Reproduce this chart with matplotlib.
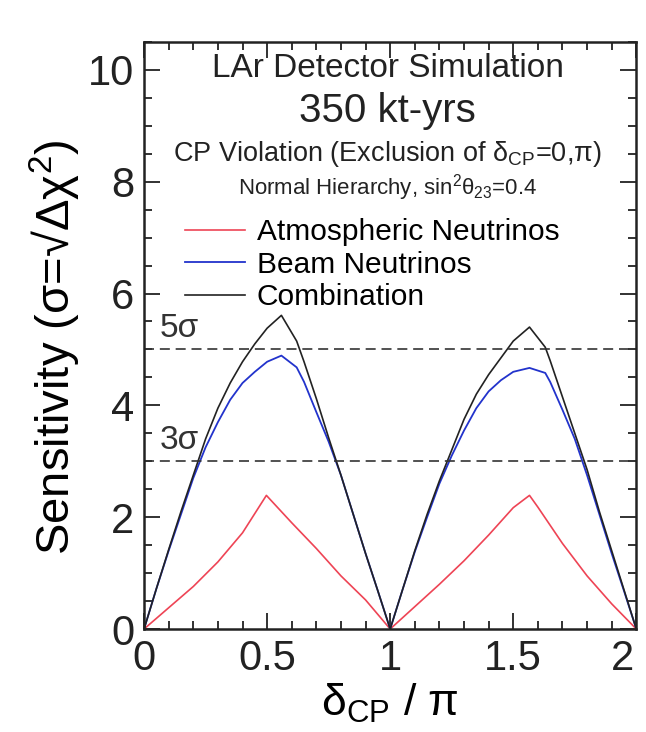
import matplotlib
matplotlib.use("Agg")
import matplotlib.pyplot as plt
from matplotlib.ticker import MultipleLocator
from matplotlib.transforms import ScaledTranslation

plt.rcParams['font.family'] = ['Liberation Sans', 'DejaVu Sans']
plt.rcParams['mathtext.fontset'] = 'custom'
plt.rcParams['mathtext.rm'] = 'Liberation Sans'
plt.rcParams['mathtext.it'] = 'Liberation Sans'
plt.rcParams['mathtext.default'] = 'regular'

# Atmospheric neutrinos
atm_x = [0.0, 0.1, 0.2, 0.3, 0.4, 0.497, 0.6, 0.7, 0.8, 0.9, 1.0,
         1.1, 1.2, 1.3, 1.4, 1.5, 1.566, 1.6, 1.7, 1.8, 1.9, 2.0]
atm_y = [0.0, 0.38, 0.76, 1.2, 1.72, 2.39, 1.9, 1.44, 0.95, 0.52, 0.0,
         0.4, 0.8, 1.22, 1.68, 2.17, 2.39, 2.18, 1.53, 0.95, 0.45, 0.0]

# Beam neutrinos
beam_x = [0.0, 0.05, 0.1, 0.15, 0.2, 0.25, 0.3, 0.35, 0.4, 0.45, 0.5, 0.558, 0.62,
          0.65, 0.7, 0.75, 0.8, 0.85, 0.9, 0.95, 1.0,
          1.05, 1.1, 1.15, 1.2, 1.25, 1.3, 1.35, 1.4, 1.45, 1.5, 1.566, 1.63,
          1.65, 1.7, 1.75, 1.8, 1.85, 1.9, 1.95, 2.0]
beam_y = [0.0, 0.72, 1.4, 2.05, 2.7, 3.25, 3.7, 4.1, 4.4, 4.6, 4.78, 4.89, 4.68,
          4.42, 3.88, 3.35, 2.75, 2.05, 1.35, 0.68, 0.0,
          0.7, 1.38, 2.0, 2.6, 3.1, 3.55, 3.95, 4.25, 4.45, 4.6, 4.67, 4.58,
          4.42, 3.92, 3.4, 2.75, 2.05, 1.35, 0.68, 0.0]

# Combination
comb_x = [0.0, 0.05, 0.1, 0.15, 0.2, 0.25, 0.3, 0.35, 0.4, 0.45, 0.5, 0.558, 0.62,
          0.65, 0.7, 0.75, 0.8, 0.85, 0.9, 0.95, 1.0,
          1.05, 1.1, 1.15, 1.2, 1.25, 1.3, 1.35, 1.4, 1.45, 1.5, 1.566, 1.63,
          1.65, 1.7, 1.75, 1.8, 1.85, 1.9, 1.95, 2.0]
comb_y = [0.0, 0.72, 1.42, 2.1, 2.75, 3.4, 3.95, 4.4, 4.78, 5.1, 5.38, 5.61, 5.15,
          4.78, 4.12, 3.42, 2.75, 2.05, 1.35, 0.68, 0.0,
          0.7, 1.4, 2.05, 2.65, 3.2, 3.75, 4.2, 4.55, 4.85, 5.15, 5.4, 5.04,
          4.8, 4.15, 3.5, 2.85, 2.1, 1.4, 0.7, 0.0]

sigma_levels = [5, 3]
sigma_labels = ['5σ', '3σ']

fig = plt.figure(figsize=(6.46, 7.32), dpi=100)
ax = fig.add_axes([0.223, 0.1407, 0.762, 0.802])

ax.plot(atm_x, atm_y, color='#ee4455', lw=1.2, label='Atmospheric Neutrinos')
ax.plot(beam_x, beam_y, color='#2233cc', lw=1.3, label='Beam Neutrinos')
ax.plot(comb_x, comb_y, color='#222222', lw=1.2, label='Combination')

for lev, lab in zip(sigma_levels, sigma_labels):
    ax.axhline(lev, color='#333333', lw=1.2, ls=(0, (6, 3.5)))
    ax.text(0.065, lev + 0.1, lab, fontsize=24, color='#333333', va='bottom', ha='left')

ax.set_xlim(0, 2)
ax.set_ylim(0, 10.5)
ax.set_xticks([0, 0.5, 1, 1.5, 2])
ax.set_xticklabels(['0', '0.5', '1', '1.5', '2'])
ax.xaxis.set_minor_locator(MultipleLocator(0.1))
ax.yaxis.set_major_locator(MultipleLocator(2))
ax.yaxis.set_minor_locator(MultipleLocator(0.5))
ax.tick_params(which='both', direction='in', top=True, right=True, width=1.3, colors='#222222')
ax.tick_params(which='major', length=11.5, labelsize=30, pad=7)
ax.tick_params(which='minor', length=6)
for s in ax.spines.values():
    s.set_linewidth(1.8)
    s.set_color('#222222')

# nudge the last x tick label left so it stays inside the figure
last = ax.get_xticklabels()[-1]
last.set_transform(last.get_transform() + ScaledTranslation(-10 / 72, 0, fig.dpi_scale_trans))

ax.set_xlabel('δ$_{CP}$ / π', fontsize=32, labelpad=2)
ax.set_ylabel('Sensitivity (σ=√Δχ$^2$)', fontsize=34, labelpad=6)
ax.yaxis.set_label_coords(-0.125, 0.48)

ax.text(0.99, 10.02, 'LAr Detector Simulation', fontsize=24, ha='center', va='center', color='#222222')
ax.text(0.99, 9.27, '350 kt-yrs', fontsize=29, ha='center', va='center', color='#222222')
ax.text(0.99, 8.5, 'CP Violation (Exclusion of δ$_{CP}$=0,π)', fontsize=19.5, ha='center', va='center', color='#222222')
ax.text(0.99, 7.9, 'Normal Hierarchy, sin$^2$θ$_{23}$=0.4', fontsize=16, ha='center', va='center', color='#222222')

ax.legend(loc='upper left', bbox_to_anchor=(0.083, 0.70), frameon=False, fontsize=21.5,
          handlelength=2.0, handletextpad=0.4, labelspacing=0.15, borderpad=0, borderaxespad=0)

fig.savefig('out.png', dpi=100)
